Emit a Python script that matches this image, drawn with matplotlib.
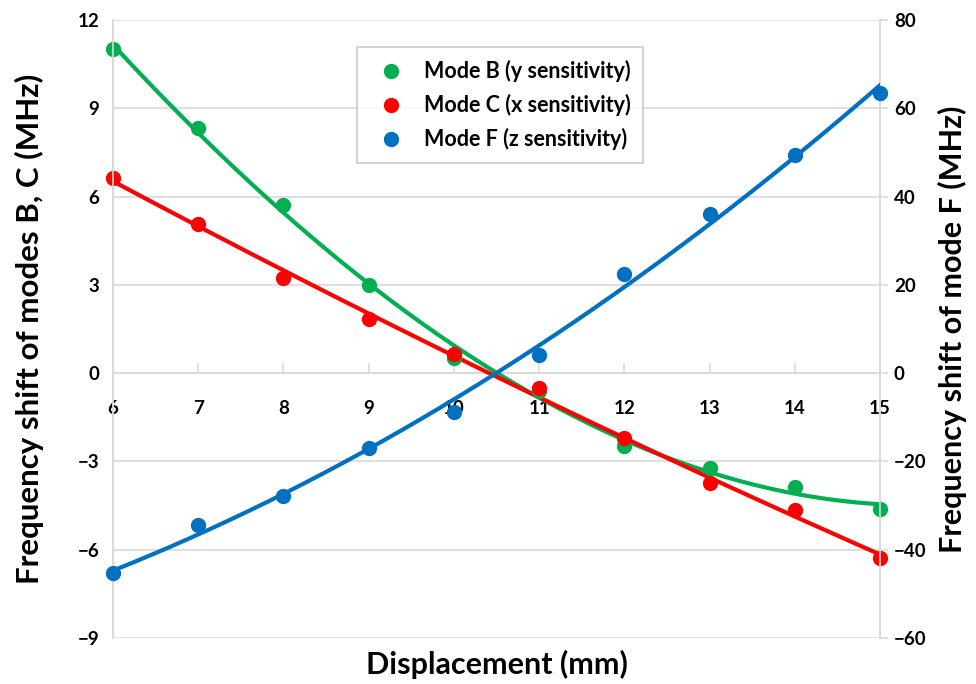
import numpy as np
import matplotlib.pyplot as plt
from matplotlib.lines import Line2D

plt.rcParams['font.family'] = ['Lato', 'DejaVu Sans']
plt.rcParams['font.weight'] = 'bold'

# displacement (mm)
disp = [6, 7, 8, 9, 10, 11, 12, 13, 14, 15]
# frequency shifts (MHz)
mode_b = [11.0, 8.32, 5.71, 2.99, 0.51, -0.6, -2.48, -3.23, -3.87, -4.62]
mode_c = [6.63, 5.06, 3.23, 1.83, 0.65, -0.51, -2.21, -3.74, -4.66, -6.29]
mode_f = [-45.3, -34.4, -27.9, -17.0, -8.8, 4.1, 22.4, 36.0, 49.4, 63.4]

labels = ['Mode B (y sensitivity)', 'Mode C (x sensitivity)', 'Mode F (z sensitivity)']
green, red, blue = '#00B050', '#FF0000', '#0070C0'
grid_c = '#D9D9D9'

fig = plt.figure(figsize=(9.76, 6.84), dpi=100)
ax = fig.add_axes([0.1158, 0.0673, 0.9016 - 0.1158, 0.9708 - 0.0673])
ax2 = ax.twinx()

xs = np.linspace(6, 15, 200)

# trendlines (polynomial fits) + points
fit_b = np.polyfit(disp, mode_b, 3)
fit_c = np.polyfit(disp, mode_c, 2)
fit_f = np.polyfit(disp, mode_f, 2)

ax.plot(xs, np.polyval(fit_b, xs), color=green, lw=3, zorder=3)
ax.plot(disp, mode_b, 'o', color=green, ms=10, zorder=4, clip_on=False)
ax.plot(xs, np.polyval(fit_c, xs), color=red, lw=3, zorder=3)
ax.plot(disp, mode_c, 'o', color=red, ms=10, zorder=4, clip_on=False)
ax2.plot(xs, np.polyval(fit_f, xs), color=blue, lw=3, zorder=3)
ax2.plot(disp, mode_f, 'o', color=blue, ms=10, zorder=4, clip_on=False)

ax.set_xlim(6, 15)
ax.set_ylim(-9, 12)
ax.set_yticks(np.arange(-9, 13, 3))
ax.set_xticks(disp)
ax2.set_ylim(-60, 80)
ax2.set_yticks(np.arange(-60, 81, 20))

ax.grid(axis='y', color=grid_c, lw=1.2)
ax.set_axisbelow(True)

for a in (ax, ax2):
    a.spines['top'].set_visible(False)
    a.spines['left'].set_color(grid_c)
    a.spines['right'].set_color(grid_c)
    a.spines['left'].set_linewidth(1.2)
    a.spines['right'].set_linewidth(1.2)
ax2.spines['bottom'].set_visible(False)
ax.spines['bottom'].set_position(('data', 0))
ax.spines['bottom'].set_color(grid_c)
ax.spines['bottom'].set_linewidth(1.2)

ax.tick_params(axis='x', direction='in', length=7, width=1.2, color=grid_c,
               labelsize=13.5, pad=19)
ax.tick_params(axis='y', length=0, labelsize=13.5, pad=10)
ax2.tick_params(axis='y', direction='out', length=6, width=1.2, color=grid_c,
                labelsize=13.5, pad=4)

ax.set_xlabel('Displacement (mm)', fontsize=22, fontweight='bold')
ax.xaxis.set_label_coords(0.5, -0.02)
ax.set_ylabel('Frequency shift of modes B, C (MHz)', fontsize=22.5, fontweight='bold')
ax.yaxis.set_label_coords(-0.09, 0.5)
ax2.set_ylabel('Frequency shift of mode F (MHz)', fontsize=22, fontweight='bold')
ax2.yaxis.set_label_coords(1.075, 0.5)

handles = [Line2D([], [], ls='none', marker='o', color=c, ms=10) for c in (green, red, blue)]
leg = ax2.legend(handles, labels, loc='upper left', bbox_to_anchor=(0.304, 0.973),
                 fontsize=15.5, frameon=True, fancybox=False, edgecolor='#BFBFBF',
                 handletextpad=0.5, borderpad=0.6, labelspacing=0.55)
leg.get_frame().set_linewidth(1.2)

fig.savefig('out.png', dpi=100)
